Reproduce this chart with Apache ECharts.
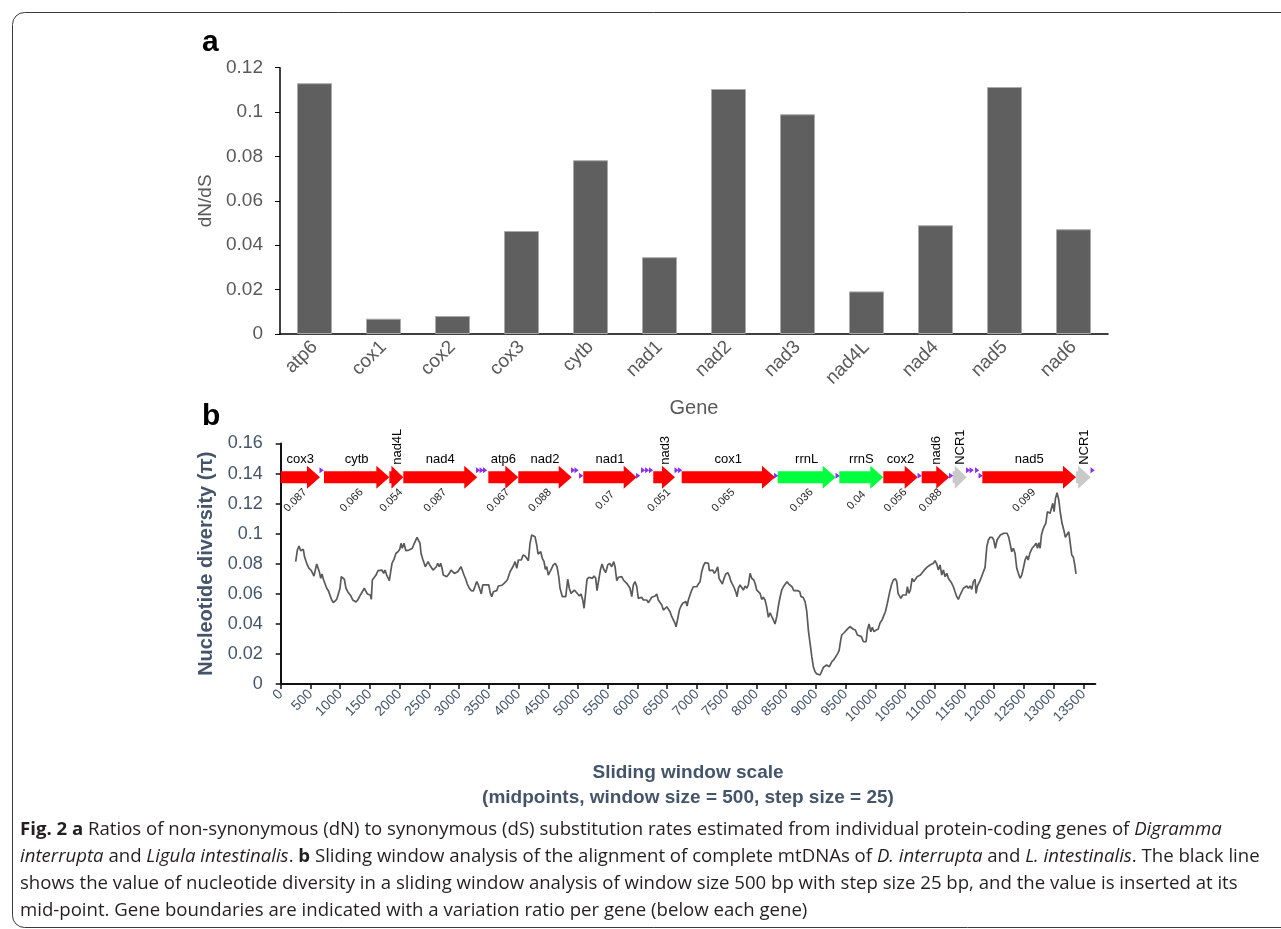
<!DOCTYPE html>
<html>
<head>
<meta charset="utf-8">
<title>Fig. 2 dN/dS and nucleotide diversity</title>
<script src="https://cdn.jsdelivr.net/npm/echarts@6/dist/echarts.min.js"></script>
<style>
  html, body { margin: 0; padding: 0; background: #ffffff; }
  #chart { width: 1281px; height: 929px; }
</style>
</head>
<body>
<div id="chart"></div>
<script>
// ---- Panel a: dN/dS per protein-coding gene ----
const dndsGenes = ['atp6', 'cox1', 'cox2', 'cox3', 'cytb', 'nad1', 'nad2', 'nad3', 'nad4L', 'nad4', 'nad5', 'nad6'];
const dndsValues = [0.113, 0.0069, 0.0081, 0.0464, 0.0783, 0.0346, 0.1104, 0.099, 0.0192, 0.049, 0.1113, 0.0472];

// ---- Panel b: gene map along the mtDNA alignment (bp) ----
const geneNames = ['cox3', 'cytb', 'nad4L', 'nad4', 'atp6', 'nad2', 'nad1', 'nad3', 'cox1', 'rrnL', 'rrnS', 'cox2', 'nad6', 'NCR1', 'nad5', 'NCR1'];
const geneStart = [0, 728, 1827, 2062, 3492, 3996, 5089, 6266, 6744, 8358, 9395, 10135, 10780, 11301, 11800, 13375];
const geneEnd   = [661, 1827, 2062, 3306, 3996, 4894, 5987, 6631, 8313, 9334, 10135, 10713, 11244, 11537, 13375, 13622];
const geneRatio = ['0.087', '0.066', '0.054', '0.087', '0.067', '0.088', '0.07', '0.051', '0.065', '0.036', '0.04', '0.056', '0.088', null, '0.099', null];
const geneKind  = ['protein', 'protein', 'protein', 'protein', 'protein', 'protein', 'protein', 'protein', 'protein', 'rRNA', 'rRNA', 'protein', 'protein', 'NCR', 'protein', 'NCR'];

// tRNA genes: position (bp) and drawing tier (0 = upper, 1 = lower)
const trnaPos  = [686, 3319, 3378, 3436, 4917, 4975, 5051, 6010, 6094, 6161, 6228, 6657, 6716, 8331, 9365, 10744, 11274, 11560, 11619, 11711, 11770, 13654];
const trnaTier = [0, 0, 0, 0, 0, 0, 1, 1, 0, 0, 0, 0, 0, 1, 1, 1, 1, 0, 0, 0, 1, 0];

// Sliding-window nucleotide diversity: [window midpoint (bp), pi]
const diversityTrace = [
  [252,0.0814],[280,0.0891],[308,0.0918],[336,0.0887],[358,0.088],[380,0.0896],[403,0.0843],[425,0.0836],[448,0.0792],[476,0.077],
  [510,0.0758],[538,0.0754],[560,0.0718],[577,0.0725],[605,0.0798],[627,0.0792],[650,0.0747],[673,0.0703],[695,0.0732],[717,0.0697],
  [745,0.0697],[774,0.0637],[801,0.0621],[829,0.0614],[858,0.0559],[885,0.0541],[913,0.0541],[942,0.0563],[969,0.0599],[997,0.0637],
  [1019,0.0714],[1043,0.0703],[1070,0.0697],[1098,0.0637],[1127,0.0614],[1154,0.0603],[1182,0.0585],[1211,0.0559],[1238,0.0559],[1267,0.0545],
  [1295,0.0559],[1322,0.0563],[1351,0.0599],[1379,0.0607],[1406,0.0637],[1435,0.0625],[1457,0.0599],[1485,0.0607],[1507,0.0592],[1524,0.0563],
  [1541,0.0692],[1569,0.0703],[1603,0.0725],[1637,0.0754],[1670,0.0758],[1704,0.0758],[1732,0.0736],[1754,0.0758],[1783,0.0725],[1805,0.0714],
  [1827,0.0687],[1850,0.0747],[1872,0.0803],[1906,0.083],[1939,0.087],[1973,0.088],[2002,0.0896],[2023,0.0936],[2045,0.0903],[2074,0.0936],
  [2103,0.0887],[2129,0.088],[2158,0.0891],[2187,0.088],[2214,0.0903],[2242,0.0931],[2271,0.094],[2293,0.0976],[2321,0.0976],[2343,0.0936],
  [2360,0.087],[2389,0.083],[2410,0.0807],[2432,0.078],[2456,0.0798],[2478,0.0814],[2506,0.0792],[2533,0.0803],[2562,0.0758],[2590,0.0747],
  [2617,0.078],[2641,0.0803],[2668,0.078],[2691,0.0803],[2713,0.077],[2735,0.0725],[2764,0.0718],[2792,0.0714],[2814,0.0703],[2836,0.0736],
  [2864,0.0758],[2893,0.0754],[2920,0.0736],[2949,0.0725],[2977,0.0747],[3004,0.0754],[3033,0.078],[3055,0.077],[3083,0.0725],[3112,0.0697],
  [3139,0.0665],[3172,0.0637],[3206,0.0621],[3240,0.0619],[3273,0.0619],[3297,0.0681],[3324,0.0659],[3352,0.0647],[3374,0.0599],[3398,0.0659],
  [3431,0.0659],[3465,0.0659],[3499,0.0659],[3526,0.0603],[3549,0.0581],[3576,0.0614],[3605,0.0621],[3633,0.0621],[3660,0.0652],[3689,0.0657],
  [3722,0.0657],[3756,0.067],[3785,0.0659],[3811,0.0692],[3835,0.0687],[3857,0.0747],[3885,0.0736],[3912,0.0785],[3941,0.0814],[3970,0.077],
  [3997,0.0825],[4025,0.0836],[4047,0.0825],[4076,0.0858],[4110,0.0852],[4138,0.0836],[4165,0.082],[4193,0.0936],[4222,0.0991],[4249,0.0998],
  [4277,0.098],[4306,0.0925],[4328,0.0865],[4350,0.087],[4373,0.088],[4400,0.0836],[4429,0.0814],[4451,0.0763],[4474,0.078],[4501,0.0725],
  [4530,0.0747],[4558,0.0736],[4585,0.0792],[4619,0.0803],[4647,0.078],[4676,0.0714],[4698,0.0637],[4737,0.0581],[4794,0.0581],[4827,0.0697],
  [4854,0.0637],[4883,0.0603],[4911,0.0592],[4938,0.0625],[4967,0.0637],[4996,0.0599],[5023,0.0585],[5051,0.0599],[5080,0.0559],[5102,0.0504],
  [5130,0.0614],[5152,0.0697],[5186,0.071],[5214,0.0718],[5241,0.0703],[5270,0.0718],[5298,0.0703],[5320,0.0621],[5349,0.0692],[5376,0.0758],
  [5404,0.0798],[5433,0.0763],[5467,0.0741],[5500,0.0792],[5534,0.0803],[5567,0.078],[5601,0.0814],[5623,0.078],[5652,0.0687],[5679,0.071],
  [5707,0.0697],[5736,0.0714],[5763,0.0692],[5791,0.0697],[5820,0.067],[5847,0.0659],[5875,0.0637],[5904,0.0581],[5931,0.0659],[5959,0.0681],
  [5988,0.0647],[6015,0.057],[6044,0.0559],[6072,0.0577],[6099,0.0559],[6128,0.057],[6156,0.0559],[6183,0.0541],[6212,0.0537],[6240,0.0577],
  [6267,0.0581],[6296,0.0585],[6324,0.0599],[6351,0.0559],[6380,0.0548],[6409,0.0526],[6436,0.0492],[6464,0.0504],[6493,0.0514],[6520,0.0519],
  [6548,0.0481],[6577,0.0448],[6604,0.0437],[6632,0.0404],[6649,0.0381],[6678,0.0437],[6705,0.0492],[6733,0.0519],[6762,0.0537],[6789,0.0526],
  [6817,0.0548],[6834,0.0519],[6856,0.0559],[6884,0.0592],[6913,0.0625],[6940,0.0647],[6969,0.0659],[6997,0.0647],[7024,0.0665],[7053,0.0681],
  [7081,0.0747],[7108,0.0785],[7137,0.0807],[7166,0.082],[7193,0.0803],[7209,0.0754],[7238,0.0747],[7266,0.0758],[7294,0.0736],[7322,0.0754],
  [7350,0.078],[7372,0.0703],[7401,0.0692],[7428,0.0665],[7456,0.0703],[7485,0.0732],[7519,0.0741],[7546,0.0718],[7574,0.0681],[7603,0.0659],
  [7630,0.0637],[7658,0.0607],[7675,0.0581],[7697,0.0637],[7725,0.0659],[7754,0.0647],[7781,0.0625],[7810,0.0652],[7838,0.0637],[7865,0.0659],
  [7894,0.0736],[7922,0.0703],[7956,0.0692],[7978,0.067],[8006,0.0625],[8033,0.0614],[8062,0.0603],[8090,0.0563],[8117,0.0577],[8146,0.0559],
  [8175,0.051],[8202,0.0444],[8230,0.0474],[8259,0.0448],[8286,0.0426],[8314,0.0399],[8343,0.0448],[8370,0.0519],[8398,0.0577],[8427,0.0625],
  [8454,0.0647],[8483,0.0663],[8516,0.0681],[8545,0.0665],[8572,0.0659],[8600,0.0647],[8629,0.0621],[8662,0.0621],[8696,0.0621],[8730,0.0614],
  [8751,0.0581],[8785,0.0577],[8819,0.0548],[8848,0.0481],[8874,0.0359],[8903,0.0271],[8932,0.0182],[8958,0.0115],[8987,0.0082],[9016,0.0067],
  [9072,0.006],[9100,0.0067],[9127,0.0111],[9183,0.0126],[9227,0.0115],[9268,0.0148],[9307,0.0164],[9340,0.016],[9369,0.0204],[9391,0.0222],
  [9419,0.0293],[9436,0.0326],[9475,0.0341],[9508,0.0348],[9542,0.037],[9576,0.0381],[9609,0.0381],[9631,0.0364],[9665,0.0359],[9699,0.0326],
  [9732,0.0326],[9766,0.0315],[9800,0.0281],[9845,0.0281],[9867,0.0359],[9895,0.0399],[9924,0.0348],[9951,0.0377],[9979,0.0348],[10013,0.0359],
  [10047,0.0364],[10081,0.0408],[10114,0.0426],[10136,0.0448],[10170,0.0481],[10203,0.0537],[10237,0.0603],[10271,0.0659],[10304,0.0692],[10338,0.07],
  [10361,0.0681],[10383,0.0603],[10405,0.0592],[10429,0.057],[10462,0.0592],[10489,0.0581],[10518,0.0592],[10540,0.0647],[10563,0.0603],[10590,0.0625],
  [10619,0.0703],[10647,0.0681],[10674,0.0692],[10703,0.0714],[10731,0.0703],[10758,0.0725],[10787,0.0736],[10815,0.0754],[10842,0.0758],[10866,0.0776],
  [10893,0.077],[10921,0.0792],[10950,0.0785],[10977,0.0803],[11005,0.082],[11034,0.0798],[11061,0.0758],[11089,0.0792],[11118,0.0725],[11145,0.0758],
  [11174,0.0714],[11202,0.0736],[11229,0.0703],[11258,0.0714],[11286,0.067],[11313,0.0647],[11341,0.0614],[11370,0.0581],[11397,0.0563],[11426,0.0592],
  [11454,0.0581],[11481,0.0637],[11510,0.0625],[11538,0.0652],[11565,0.0637],[11594,0.0652],[11622,0.063],[11649,0.0681],[11678,0.0697],[11695,0.0603],
  [11717,0.0652],[11740,0.0647],[11762,0.0687],[11791,0.0692],[11818,0.0747],[11846,0.0776],[11875,0.0913],[11902,0.0958],[11930,0.0976],[11964,0.0976],
  [11992,0.0958],[12019,0.0903],[12048,0.0958],[12076,0.0947],[12103,0.0991],[12132,0.098],[12160,0.1003],[12187,0.0991],[12216,0.1003],[12245,0.0976],
  [12272,0.0969],[12294,0.088],[12322,0.0903],[12350,0.087],[12379,0.077],[12406,0.0736],[12435,0.0703],[12463,0.0725],[12490,0.077],[12519,0.0825],
  [12548,0.0852],[12570,0.0825],[12603,0.0874],[12637,0.0903],[12671,0.0918],[12704,0.0936],[12727,0.0903],[12750,0.094],[12772,0.0903],[12794,0.0991],
  [12817,0.1025],[12839,0.1047],[12868,0.1069],[12894,0.1146],[12918,0.1158],[12940,0.1136],[12962,0.1169],[12985,0.1202],[13007,0.1146],[13030,0.1235],
  [13057,0.1273],[13086,0.1224],[13113,0.1136],[13141,0.1069],[13170,0.1025],[13196,0.0976],[13225,0.0969],[13254,0.1013],[13276,0.1003],[13304,0.0858],
  [13331,0.0843],[13355,0.0792],[13375,0.0732]
];

// Tick labels of the sliding-window axis
const windowTicks = [0, 500, 1000, 1500, 2000, 2500, 3000, 3500, 4000, 4500, 5000, 5500, 6000, 6500,
  7000, 7500, 8000, 8500, 9000, 9500, 10000, 10500, 11000, 11500, 12000, 12500, 13000, 13500];

// ---- drawing ----
const SANS = "'Liberation Sans', Arial, Helvetica, sans-serif";
const CAPTION_FONT = "'Open Sans', sans-serif";
const GREY_TEXT = '#595959';
const SLATE = '#44546A';
const TRACK_Y = 0.1375;          // vertical position of the gene map inside panel b
const GENE_FILL = { protein: '#ff0000', rRNA: '#00ff3c', NCR: '#c9c9c9' };
const NAME_FONT = '13px ' + SANS;

const measureCtx = document.createElement('canvas').getContext('2d');
function textWidth(text, font) {
  measureCtx.font = font;
  return measureCtx.measureText(text).width;
}

function renderGene(params, api) {
  const i = params.dataIndex;
  const a = api.coord([api.value(0), TRACK_Y]);
  const b = api.coord([api.value(1), TRACK_Y]);
  const x0 = a[0], x1 = b[0], cy = a[1], w = x1 - x0;
  const head = Math.min(13, w * 0.85);
  const bodyH = 6, headH = 11.5;
  const cx = (x0 + x1) / 2;
  const children = [{
    type: 'polygon',
    shape: { points: [
      [x0, cy - bodyH], [x1 - head, cy - bodyH], [x1 - head, cy - headH], [x1, cy],
      [x1 - head, cy + headH], [x1 - head, cy + bodyH], [x0, cy + bodyH]
    ] },
    style: { fill: GENE_FILL[geneKind[i]] }
  }];
  const name = geneNames[i];
  if (textWidth(name, NAME_FONT) > w - 4) {
    // narrow genes get an upright label
    children.push({
      type: 'text', x: cx + 1, y: cy - headH - 1, rotation: Math.PI / 2,
      style: { text: name, x: 0, y: 0, align: 'left', verticalAlign: 'middle', font: NAME_FONT, fill: '#000' }
    });
  } else {
    children.push({
      type: 'text', x: cx, y: cy - headH,
      style: { text: name, x: 0, y: 0, align: 'center', verticalAlign: 'bottom', font: NAME_FONT, fill: '#000' }
    });
  }
  if (geneRatio[i] !== null) {
    children.push({
      type: 'text', x: cx - 5, y: cy + 23, rotation: Math.PI / 4,
      style: { text: geneRatio[i], x: 0, y: 0, align: 'center', verticalAlign: 'middle', font: '11px ' + SANS, fill: '#222' }
    });
  }
  return { type: 'group', children: children };
}

function renderTrna(params, api) {
  const i = params.dataIndex;
  const p = api.coord([api.value(0), TRACK_Y]);
  const cy = p[1] + (trnaTier[i] === 0 ? -7 : -1.5);
  const x = p[0];
  return {
    type: 'polygon',
    shape: { points: [[x - 2, cy - 3], [x + 2.2, cy], [x - 2, cy + 3]] },
    style: { fill: '#8a2cf2' }
  };
}

const chart = echarts.init(document.getElementById('chart'), null, { renderer: 'canvas' });

const option = {
  backgroundColor: '#ffffff',
  animation: false,
  textStyle: { fontFamily: SANS },
  grid: [
    { left: 280, top: 67.7, width: 828, height: 266.3 },
    { left: 280.7, top: 443.5, width: 814.6, height: 240.5 }
  ],
  xAxis: [
    {
      gridIndex: 0, type: 'category', data: dndsGenes,
      axisLine: { lineStyle: { color: '#000', width: 1.5 } },
      axisTick: { show: false },
      axisLabel: { rotate: 45, color: GREY_TEXT, fontSize: 19, fontFamily: SANS, margin: 10, interval: 0 },
      name: 'Gene', nameLocation: 'middle', nameGap: 64,
      nameTextStyle: { color: GREY_TEXT, fontSize: 20, fontFamily: SANS }
    },
    {
      gridIndex: 1, type: 'value', min: 0, max: 13700,
      axisLine: { onZero: false, lineStyle: { color: '#111', width: 2 } },
      axisTick: { show: true, customValues: windowTicks, length: 5, lineStyle: { color: '#111', width: 1.5 } },
      axisLabel: {
        customValues: windowTicks, rotate: 45, color: SLATE, fontSize: 14, fontFamily: SANS, margin: 8,
        formatter: v => String(v)
      },
      splitLine: { show: false },
      name: 'Sliding window scale\n(midpoints, window size = 500, step size = 25)',
      nameLocation: 'middle', nameGap: 76,
      nameTextStyle: { color: SLATE, fontSize: 19, fontWeight: 'bold', fontFamily: SANS, lineHeight: 25 }
    }
  ],
  yAxis: [
    {
      gridIndex: 0, type: 'value', min: 0, max: 0.12, interval: 0.02,
      axisLine: { show: true, lineStyle: { color: '#000', width: 1.5 } },
      axisTick: { show: true, length: 5, lineStyle: { color: '#000' } },
      axisLabel: { color: GREY_TEXT, fontSize: 19, fontFamily: SANS, margin: 17 },
      splitLine: { show: false },
      name: 'dN/dS', nameLocation: 'middle', nameGap: 61, nameRotate: 90,
      nameTextStyle: { color: GREY_TEXT, fontSize: 19, fontFamily: SANS }
    },
    {
      gridIndex: 1, type: 'value', min: 0, max: 0.16, interval: 0.02,
      axisLine: { show: true, onZero: false, lineStyle: { color: '#111', width: 2 } },
      axisTick: { show: true, length: 5, lineStyle: { color: '#111', width: 1.5 } },
      axisLabel: { color: SLATE, fontSize: 18, fontFamily: SANS, margin: 18 },
      splitLine: { show: false },
      name: 'Nucleotide diversity (\u03c0)', nameLocation: 'middle', nameGap: 58, nameRotate: 90,
      nameTextStyle: { color: SLATE, fontSize: 20, fontWeight: 'bold', fontFamily: SANS }
    }
  ],
  series: [
    {
      type: 'bar', xAxisIndex: 0, yAxisIndex: 0, data: dndsValues, barWidth: 35,
      itemStyle: { color: '#5f5f5f', borderColor: '#a9a9a9', borderWidth: 1 },
      silent: true
    },
    {
      type: 'line', xAxisIndex: 1, yAxisIndex: 1, data: diversityTrace,
      showSymbol: false, symbol: 'none',
      lineStyle: { color: '#5a5a5a', width: 1.7 },
      silent: true
    },
    {
      type: 'custom', xAxisIndex: 1, yAxisIndex: 1,
      data: geneStart.map((s, i) => [s, geneEnd[i]]),
      encode: { x: [0, 1] },
      renderItem: renderGene, clip: false, silent: true
    },
    {
      type: 'custom', xAxisIndex: 1, yAxisIndex: 1,
      data: trnaPos.map(p => [p]),
      encode: { x: 0 },
      renderItem: renderTrna, clip: false, silent: true
    }
  ],
  graphic: [
    {
      type: 'rect', left: 10, top: 10, silent: true,
      shape: { x: 0.5, y: 0.5, width: 1300, height: 915, r: 12 },
      style: { fill: 'none', stroke: '#3a3a3a', lineWidth: 1 }
    },
    {
      type: 'text', left: 202, top: 28, silent: true,
      style: { text: 'a', font: 'bold 30px ' + SANS, fill: '#000' }
    },
    {
      type: 'text', left: 202, top: 402, silent: true,
      style: { text: 'b', font: 'bold 30px ' + SANS, fill: '#000' }
    },
    {
      type: 'text', left: 20, top: 816, silent: true,
      style: {
        text: '{b|Fig. 2 a} Ratios of non-synonymous (dN) to synonymous (dS) substitution rates estimated from individual protein-coding genes of {i|Digramma}\n' +
              '{i|interrupta} and {i|Ligula intestinalis}. {b|b} Sliding window analysis of the alignment of complete mtDNAs of {i|D. interrupta} and {i|L. intestinalis}. The black line\n' +
              'shows the value of nucleotide diversity in a sliding window analysis of window size 500 bp with step size 25 bp, and the value is inserted at its\n' +
              'mid-point. Gene boundaries are indicated with a variation ratio per gene (below each gene)',
        fontFamily: CAPTION_FONT, fontSize: 18.6, fill: '#231f20', lineHeight: 27,
        rich: {
          b: { fontFamily: CAPTION_FONT, fontSize: 18.6, fontWeight: 'bold', fill: '#231f20', lineHeight: 27 },
          i: { fontFamily: CAPTION_FONT, fontSize: 18.6, fontStyle: 'italic', fill: '#231f20', lineHeight: 27 }
        }
      }
    }
  ]
};

chart.setOption(option);
</script>
</body>
</html>
